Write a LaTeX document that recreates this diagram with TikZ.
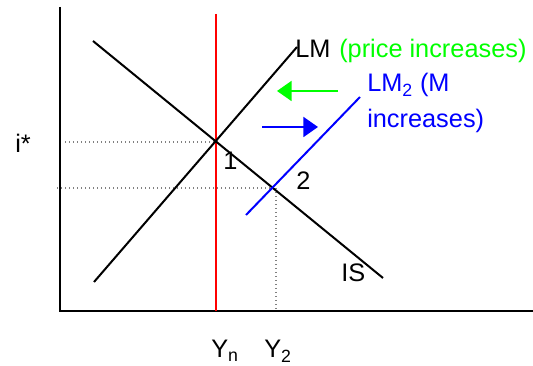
\documentclass[tikz,border=0pt]{standalone}
\usepackage{fontspec}
\setmainfont{Liberation Sans}
\usetikzlibrary{arrows.meta}

\begin{document}
\begin{tikzpicture}[x=0.75pt, y=-0.75pt, >={Triangle[length=11pt, width=15pt]},
  font=\fontsize{19}{23}\selectfont,
  curve/.style={line width=1.5pt},
  guide/.style={gray, dotted, line width=1pt}]
\useasboundingbox (0,0) rectangle (533,366);

% axes
\draw[curve] (60,7) coordinate(top) -- (60,311) coordinate(O) -- (533,311) coordinate(right);

% points 1 and 2
\coordinate (E1) at (217,142);
\coordinate (E2) at (274,188);

% dotted guides
\draw[guide] (65,142) -- (E1);
\draw[guide] (57,188) -- (E2);
\draw[guide] (E2) ++(2,0) -- (276,311);

% Yn
\draw[red, line width=1.5pt] (216,14) coordinate(Ytop) -- (216,311) coordinate(Ybot);

% IS and LM
\draw[curve] (93,41) coordinate(IS1) -- (383,278) coordinate(IS2);
\draw[curve] (94,282) coordinate(LM1) -- (297,47) coordinate(LM2);
\draw[blue, line width=1.5pt] (246,215) coordinate(LMb1) -- (360,97) coordinate(LMb2);

% shift arrows
\draw[->, green, line width=1.5pt] (338,91) coordinate(g1) -- (277,91) coordinate(g2);
\draw[->, blue, line width=1.5pt] (262,127) coordinate(b1) -- (318,127) coordinate(b2);

% labels
\node[anchor=base west, inner sep=0pt] (lm) at (295,58) {LM};
\node[anchor=base west, inner sep=0pt, green] (price) at (339,58) {(price increases)};
\node[anchor=base west, inner sep=0pt, blue] (lmtwo) at (367,92) {LM\textsubscript{2} (M};
\node[anchor=base west, inner sep=0pt, blue] (minc) at (367,128) {increases)};
\node[anchor=base west, inner sep=0pt] (istar) at (15,153) {i*};
\node[anchor=base west, inner sep=0pt] (one) at (223,170) {1};
\node[anchor=base west, inner sep=0pt] (two) at (296,190) {2};
\node[anchor=base west, inner sep=0pt] (is) at (341,282) {IS};
\node[anchor=base west, inner sep=0pt] (yn) at (211,358) {Y\textsubscript{n}};
\node[anchor=base west, inner sep=0pt] (ytwo) at (264,358) {Y\textsubscript{2}};
\end{tikzpicture}
\end{document}
